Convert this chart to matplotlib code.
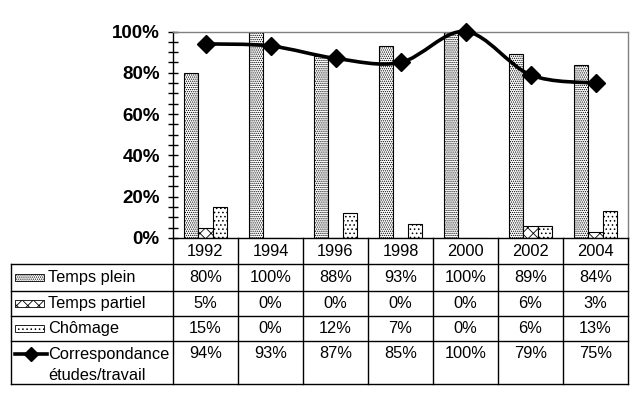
import numpy as np
import matplotlib
matplotlib.use("Agg")
import matplotlib.pyplot as plt
from matplotlib.path import Path
from matplotlib.patches import PathPatch, Rectangle
from matplotlib.lines import Line2D
import matplotlib.transforms as mtransforms

years = ["1992", "1994", "1996", "1998", "2000", "2002", "2004"]
temps_plein = [80, 100, 88, 93, 100, 89, 84]
temps_partiel = [5, 0, 0, 0, 0, 6, 3]
chomage = [15, 0, 12, 7, 0, 6, 13]
correspondance = [94, 93, 87, 85, 100, 79, 75]
row_labels = ["Temps plein", "Temps partiel", "Chômage", "Correspondance", "études/travail"]

plt.rcParams['font.family'] = ['Liberation Sans', 'DejaVu Sans']
plt.rcParams['hatch.linewidth'] = 0.6

W, H = 639, 399
fig = plt.figure(figsize=(W / 100, H / 100), dpi=100)
ax = fig.add_axes([173 / W, (H - 238) / H, 455 / W, (238 - 31.5) / H])

x = np.arange(len(years))
bw = 0.223
hatches = ["........", "xxx", "...."]
series = [temps_plein, temps_partiel, chomage]
for k, (vals, h) in enumerate(zip(series, hatches)):
    ax.bar(x + (k - 1) * bw, vals, width=bw, facecolor="white", edgecolor="black",
           hatch=h, linewidth=0.8, zorder=2)

# smoothed line (bezier through the data points, like excel smoothing)
pts = np.column_stack([x, correspondance]).astype(float)
verts = [pts[0]]
codes = [Path.MOVETO]
n = len(pts)
for i in range(n - 1):
    p0 = pts[max(i - 1, 0)]
    p1 = pts[i]
    p2 = pts[i + 1]
    p3 = pts[min(i + 2, n - 1)]
    verts += [p1 + (p2 - p0) / 6, p2 - (p3 - p1) / 6, p2]
    codes += [Path.CURVE4] * 3
ax.add_patch(PathPatch(Path(verts, codes), facecolor="none", edgecolor="black",
                       linewidth=2.6, zorder=3, clip_on=False))
ax.plot(x, correspondance, linestyle="none", marker="D", markersize=9.5,
        color="black", zorder=4, clip_on=False)

ax.set_xlim(-0.5, len(years) - 0.5)
ax.set_ylim(0, 100)
ax.set_yticks(range(0, 101, 20))
ax.set_yticks(range(0, 101, 5), minor=True)
ax.set_yticklabels([f"{v}%" for v in range(0, 101, 20)], fontsize=13.5, fontweight="bold")
ax.tick_params(axis="y", which="both", direction="inout", length=7, width=1, pad=6)
ax.set_xticks([])
for s in ["top", "right"]:
    ax.spines[s].set_color("#808080")
    ax.spines[s].set_linewidth(1)
ax.spines["left"].set_linewidth(1)
ax.spines["bottom"].set_linewidth(1)

# data table below the axes
def fy(py):
    return (H - py) / H

def fx(px):
    return px / W

bt = mtransforms.blended_transform_factory(ax.transData, fig.transFigure)
ft = fig.transFigure
row_y = [238, 264, 291, 316, 341, 384]
lw = 1
fs = 11.8

for i in range(len(years) + 1):
    fig.add_artist(Line2D([i - 0.5, i - 0.5], [fy(238), fy(384)], transform=bt,
                          color="black", linewidth=lw))
fig.add_artist(Line2D([fx(11), fx(11)], [fy(264), fy(384)], transform=ft,
                      color="black", linewidth=lw))
for py in row_y[1:]:
    fig.add_artist(Line2D([fx(11), fx(628)], [fy(py), fy(py)], transform=ft,
                          color="black", linewidth=lw))

for i, yr in enumerate(years):
    fig.text(i, fy(251), yr, transform=bt, ha="center", va="center", fontsize=fs)

table_rows = [temps_plein, temps_partiel, chomage, correspondance]
centers = [277.5, 303.5, 328.5, 354]
for vals, cy in zip(table_rows, centers):
    for i, v in enumerate(vals):
        fig.text(i, fy(cy), f"{v}%", transform=bt, ha="center", va="center", fontsize=fs)

# row labels with legend keys
label_y = [277.5, 303.5, 328.5, 354, 375]
for k, (lab, cy) in enumerate(zip(row_labels, label_y)):
    fig.text(fx(48), fy(cy), lab, transform=ft, ha="left", va="center", fontsize=fs)
    if k < 3:
        fig.add_artist(Rectangle((fx(15), fy(cy + 3.5)), fx(29), 7 / H, transform=ft,
                                 facecolor="white", edgecolor="black", hatch=hatches[k],
                                 linewidth=0.6))
fig.add_artist(Line2D([fx(15), fx(47)], [fy(354), fy(354)], transform=ft,
                      color="black", linewidth=2.6))
fig.add_artist(Line2D([fx(31)], [fy(354)], transform=ft, marker="D",
                      markersize=7.5, color="black", linestyle="none"))

fig.savefig("out.png", dpi=100)
